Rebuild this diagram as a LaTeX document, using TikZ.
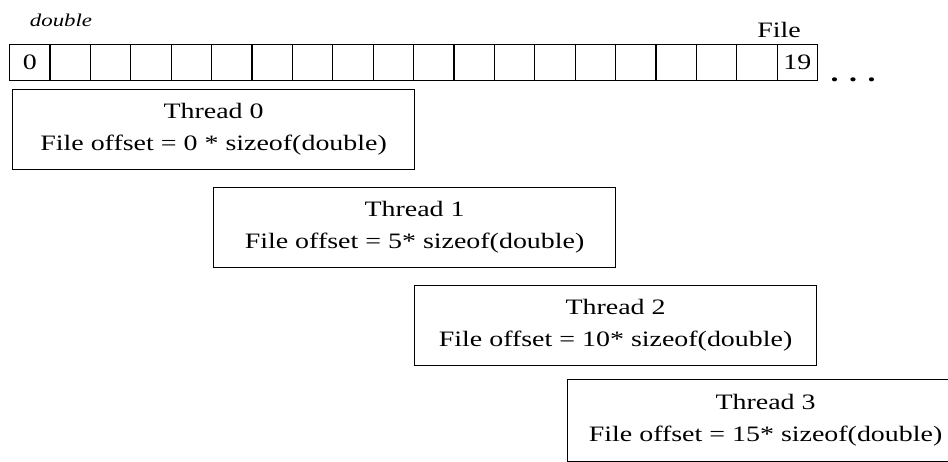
\documentclass[tikz,border=0pt]{standalone}
\usepackage{fontspec}
\setmainfont{Liberation Serif}[FakeStretch=1.27]
\begin{document}
\begin{tikzpicture}[x=1pt,y=-1pt,line width=1.2pt,
  cell/.style={draw,minimum width=40.4pt,minimum height=36pt,inner sep=0pt,anchor=north west,font=\fontsize{22}{24}\selectfont},
  thread/.style={draw,minimum width=402pt,minimum height=80pt,align=center,inner sep=0pt,anchor=north west,font=\fontsize{22}{32}\selectfont},
  lbl/.style={inner sep=0pt,font=\fontsize{22}{24}\selectfont}]
\useasboundingbox (0,0) rectangle (948,462);
\clip (0,0) rectangle (948,462);
% file cells
\node[cell] (c0) at (9,44) {0};
\foreach \i in {1,...,18} \node[cell] (c\i) at ({9+40.4*\i},44) {};
\node[cell] (c19) at ({9+40.4*19},44) {19};
% labels
\node[inner sep=0pt,font=\itshape\fontsize{18}{20}\selectfont] (dbl) at (61,20) {double};
\node[lbl] (file) at (779,30) {File};
\node[inner sep=0pt,font=\bfseries\fontsize{25}{26}\selectfont] (dots) at (853,80) {. . .};
% thread boxes
\node[thread] (t0) at (12,89) {Thread 0\\File offset = 0 * sizeof(double)};
\node[thread] (t1) at (213,187) {Thread 1\\File offset = 5* sizeof(double)};
\node[thread] (t2) at (414,285) {Thread 2\\File offset = 10* sizeof(double)};
\node[thread,minimum height=82pt,minimum width=396pt] (t3) at (567,379) {Thread 3\\File offset = 15* sizeof(double)};
\end{tikzpicture}
\end{document}
